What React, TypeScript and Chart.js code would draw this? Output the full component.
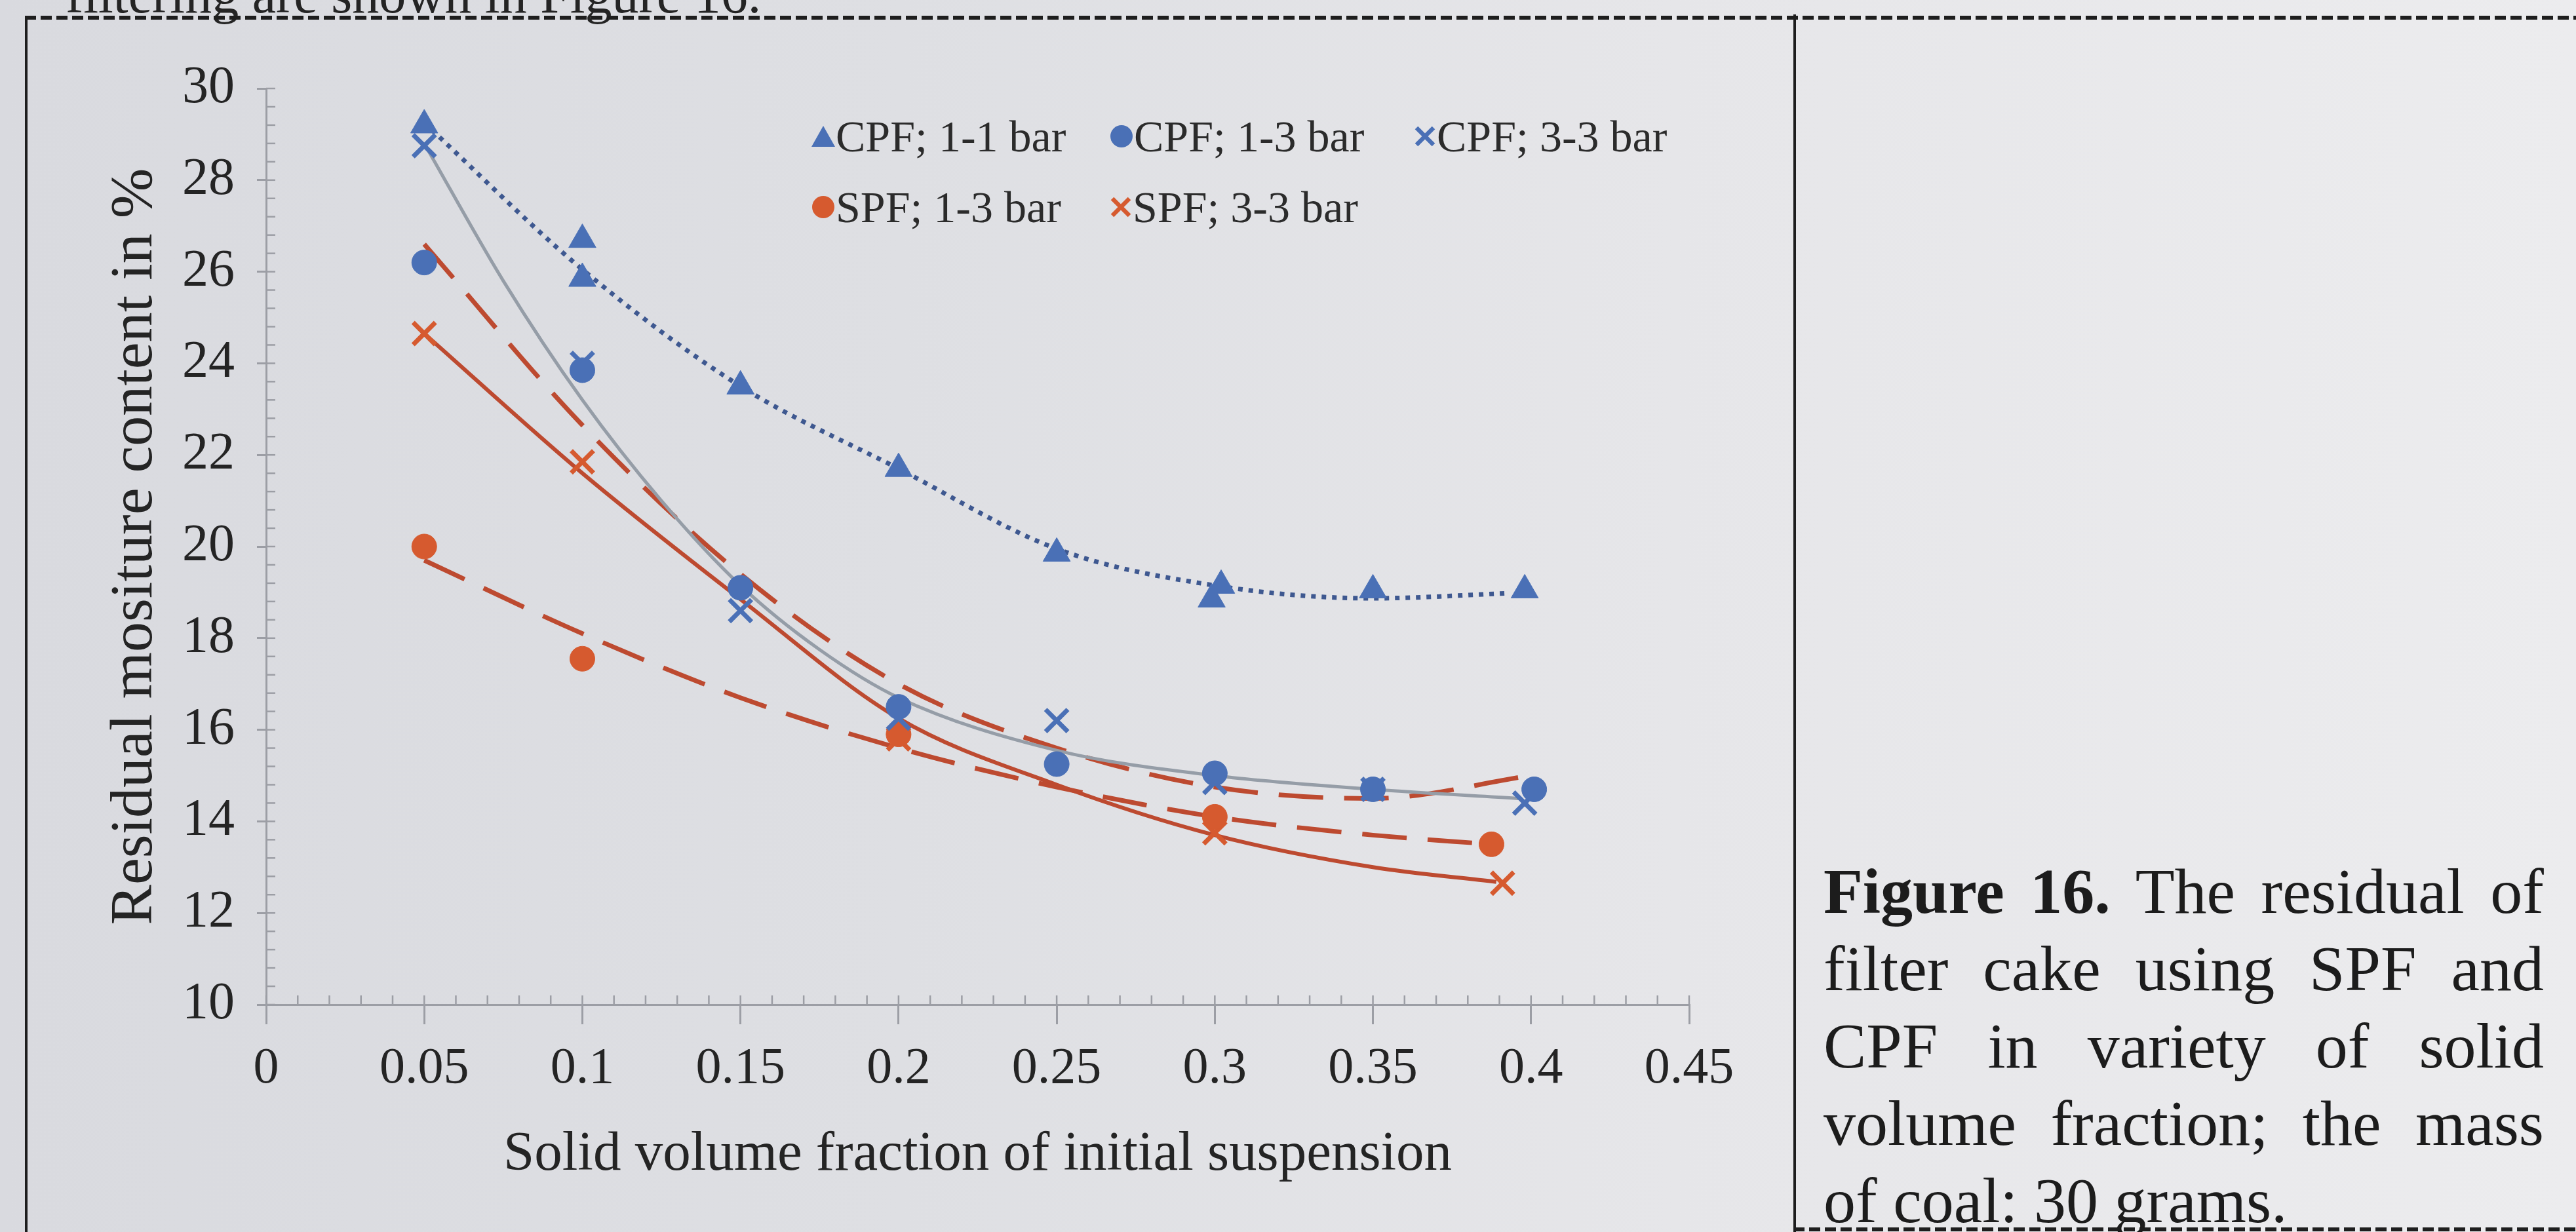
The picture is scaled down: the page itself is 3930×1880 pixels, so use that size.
import React, { useEffect, useRef } from 'react';
import { Chart, registerables } from 'chart.js';

Chart.register(...registerables);

// ---- axes ----
const X_TICKS = [0, 0.05, 0.1, 0.15, 0.2, 0.25, 0.3, 0.35, 0.4, 0.45];
const Y_TICKS = [10, 12, 14, 16, 18, 20, 22, 24, 26, 28, 30];
const X_MINOR_STEP = 0.01;
const Y_MINOR_STEP = 0.4;

// ---- measured points ----
const cpf11X = [0.05, 0.1, 0.1, 0.15, 0.2, 0.25, 0.302, 0.299, 0.35, 0.398];
const cpf11Y = [29.2, 26.7, 25.85, 23.5, 21.7, 19.85, 19.15, 18.85, 19.05, 19.05];

const cpf13X = [0.05, 0.1, 0.15, 0.2, 0.25, 0.3, 0.35, 0.401];
const cpf13Y = [26.2, 23.85, 19.1, 16.5, 15.25, 15.05, 14.7, 14.7];

const cpf33X = [0.05, 0.1, 0.15, 0.2, 0.25, 0.3, 0.35, 0.398];
const cpf33Y = [28.75, 24.0, 18.6, 16.25, 16.2, 14.85, 14.7, 14.4];

const spf13X = [0.05, 0.1, 0.2, 0.3, 0.3875];
const spf13Y = [20.0, 17.55, 15.9, 14.1, 13.5];

const spf33X = [0.05, 0.1, 0.2, 0.3, 0.391];
const spf33Y = [24.65, 21.85, 15.8, 13.75, 12.65];

// ---- trend lines ----
const trendCpf11X = [0.05, 0.1, 0.15, 0.2, 0.25, 0.3, 0.35, 0.393];
const trendCpf11Y = [29.25, 26.05, 23.5, 21.7, 19.95, 19.15, 18.87, 18.98];

const trendCpf33X = [0.05, 0.075, 0.1, 0.125, 0.15, 0.175, 0.2, 0.25, 0.3, 0.35, 0.396];
const trendCpf33Y = [28.8, 25.8, 23.2, 21.0, 19.15, 17.75, 16.7, 15.55, 15.0, 14.7, 14.5];

const trendCpf13X = [0.05, 0.1, 0.15, 0.2, 0.25, 0.3, 0.35, 0.4];
const trendCpf13Y = [26.6, 22.65, 19.4, 17.0, 15.6, 14.75, 14.5, 15.0];

const trendSpf13X = [0.05, 0.1, 0.15, 0.2, 0.25, 0.3, 0.35, 0.3875];
const trendSpf13Y = [19.7, 18.1, 16.7, 15.6, 14.75, 14.1, 13.7, 13.5];

const trendSpf33X = [0.05, 0.1, 0.15, 0.2, 0.25, 0.3, 0.35, 0.389];
const trendSpf33Y = [24.65, 21.6, 18.85, 16.25, 14.8, 13.7, 13.0, 12.68];

// ---- texts ----
const LEGEND_LABELS = ['CPF; 1-1 bar', 'CPF; 1-3 bar', 'CPF; 3-3 bar', 'SPF; 1-3 bar', 'SPF; 3-3 bar'];
const X_TITLE = 'Solid volume fraction of initial suspension';
const Y_TITLE = 'Residual mositure content in %';
const TOP_TEXT = 'filtering are shown in Figure 16.';
const CAPTION_LINES = [
  'The residual of',
  'filter cake using SPF and',
  'CPF in variety of solid',
  'volume fraction; the mass',
  'of coal: 30 grams.',
];

// ---- styles ----
const BLUE = '#4a70b6';
const ORANGE = '#d65a2f';
const RED_LINE = '#bd4a30';
const DOT_BLUE = '#3e5890';
const GRAY_LINE = '#959da7';
const AXIS = '#9c9ea5';
const TEXT = '#242424';
const SERIF = "'Liberation Serif', 'Times New Roman', serif";

const pts = (xs: number[], ys: number[]) => xs.map((x, i) => ({ x, y: ys[i] }));
const fmt = (v: number) => String(parseFloat(v.toFixed(2)));

const minorTicks = {
  id: 'minorTicks',
  afterDraw(chart: any) {
    const { ctx } = chart;
    const xs = chart.scales.x;
    const ys = chart.scales.y;
    ctx.save();
    ctx.strokeStyle = AXIS;
    ctx.lineWidth = 2.5;
    const nx = Math.round((xs.max - xs.min) / X_MINOR_STEP);
    for (let i = 0; i <= nx; i++) {
      const px = xs.getPixelForValue(xs.min + i * X_MINOR_STEP);
      ctx.beginPath();
      ctx.moveTo(px, ys.bottom);
      ctx.lineTo(px, ys.bottom - 14);
      ctx.stroke();
    }
    const ny = Math.round((ys.max - ys.min) / Y_MINOR_STEP);
    for (let i = 0; i <= ny; i++) {
      const py = ys.getPixelForValue(ys.min + i * Y_MINOR_STEP);
      ctx.beginPath();
      ctx.moveTo(xs.left, py);
      ctx.lineTo(xs.left + 14, py);
      ctx.stroke();
    }
    ctx.restore();
  },
};

function LegendMarker({ kind, color }: { kind: string; color: string }) {
  if (kind === 'triangle') {
    return (
      <svg width="38" height="34" style={{ display: 'block' }}>
        <polygon points="19,1 37,33 1,33" fill={color} />
      </svg>
    );
  }
  if (kind === 'circle') {
    return (
      <svg width="38" height="38" style={{ display: 'block' }}>
        <circle cx="19" cy="19" r="17" fill={color} />
      </svg>
    );
  }
  return (
    <svg width="36" height="36" style={{ display: 'block' }}>
      <line x1="5" y1="5" x2="31" y2="31" stroke={color} strokeWidth="6.5" />
      <line x1="31" y1="5" x2="5" y2="31" stroke={color} strokeWidth="6.5" />
    </svg>
  );
}

const LEGEND_ITEMS = [
  { label: LEGEND_LABELS[0], kind: 'triangle', color: BLUE, mx: 1256, my: 208 },
  { label: LEGEND_LABELS[1], kind: 'circle', color: BLUE, mx: 1711, my: 208 },
  { label: LEGEND_LABELS[2], kind: 'x', color: BLUE, mx: 2175, my: 208 },
  { label: LEGEND_LABELS[3], kind: 'circle', color: ORANGE, mx: 1256, my: 316 },
  { label: LEGEND_LABELS[4], kind: 'x', color: ORANGE, mx: 1711, my: 316 },
];

export default function App() {
  const canvasRef = useRef<HTMLCanvasElement | null>(null);

  useEffect(() => {
    document.body.style.margin = '0';
    document.body.style.overflow = 'hidden';
    const canvas = canvasRef.current;
    if (!canvas) return;

    const markerSet = (label: string, xs: number[], ys: number[], style: string, color: string, r: number, bw: number) => ({
      label,
      data: pts(xs, ys),
      showLine: false,
      pointStyle: style,
      pointRadius: r,
      pointHoverRadius: r,
      backgroundColor: color,
      borderColor: color,
      pointBorderWidth: bw,
      borderWidth: bw,
    });
    const trendSet = (xs: number[], ys: number[], color: string, width: number, dash: number[]) => ({
      label: '',
      data: pts(xs, ys),
      showLine: true,
      pointRadius: 0,
      borderColor: color,
      backgroundColor: color,
      borderWidth: width,
      borderDash: dash,
      borderCapStyle: 'butt',
      cubicInterpolationMode: 'monotone',
      fill: false,
    });

    const chart = new Chart(canvas, {
      type: 'scatter',
      data: {
        datasets: [
          markerSet(LEGEND_LABELS[0], cpf11X, cpf11Y, 'triangle', BLUE, 24, 1),
          markerSet(LEGEND_LABELS[1], cpf13X, cpf13Y, 'circle', BLUE, 19, 1),
          markerSet(LEGEND_LABELS[2], cpf33X, cpf33Y, 'crossRot', BLUE, 24, 7),
          markerSet(LEGEND_LABELS[3], spf13X, spf13Y, 'circle', ORANGE, 19, 1),
          markerSet(LEGEND_LABELS[4], spf33X, spf33Y, 'crossRot', ORANGE, 24, 7),
          trendSet(trendCpf11X, trendCpf11Y, DOT_BLUE, 7, [7, 9]),
          trendSet(trendCpf33X, trendCpf33Y, GRAY_LINE, 5, []),
          trendSet(trendCpf13X, trendCpf13Y, RED_LINE, 7, [68, 32]),
          trendSet(trendSpf13X, trendSpf13Y, RED_LINE, 7, [68, 32]),
          trendSet(trendSpf33X, trendSpf33Y, RED_LINE, 6, []),
        ] as any,
      },
      options: {
        responsive: false,
        animation: false,
        devicePixelRatio: 1,
        layout: { padding: { top: 135, right: 159, left: 0, bottom: 0 } },
        plugins: {
          legend: { display: false },
          tooltip: { enabled: false },
        },
        scales: {
          x: {
            type: 'linear',
            min: 0,
            max: 0.45,
            afterBuildTicks: (s: any) => {
              s.ticks = X_TICKS.map((v) => ({ value: v }));
            },
            afterFit: (s: any) => {
              s.height = 347;
            },
            grid: { drawOnChartArea: false, drawTicks: true, tickLength: 30, color: AXIS, lineWidth: 3 },
            border: { display: true, color: AXIS, width: 3 },
            ticks: {
              autoSkip: false,
              maxRotation: 0,
              padding: 22,
              color: TEXT,
              font: { family: SERIF, size: 78 },
              callback: (v: any) => fmt(Number(v)),
            },
            title: {
              display: true,
              text: X_TITLE,
              color: TEXT,
              font: { family: SERIF, size: 85 },
              padding: { top: 0, bottom: 66 },
            },
          },
          y: {
            type: 'linear',
            min: 10,
            max: 30,
            afterBuildTicks: (s: any) => {
              s.ticks = Y_TICKS.map((v) => ({ value: v }));
            },
            afterFit: (s: any) => {
              s.width = 406;
            },
            grid: { drawOnChartArea: false, drawTicks: true, tickLength: 14, color: AXIS, lineWidth: 3 },
            border: { display: true, color: AXIS, width: 3 },
            ticks: {
              padding: 34,
              color: TEXT,
              font: { family: SERIF, size: 80 },
              callback: (v: any) => fmt(Number(v)),
            },
            title: {
              display: true,
              text: Y_TITLE,
              color: TEXT,
              font: { family: SERIF, size: 92 },
              padding: { top: 152, bottom: 0 },
            },
          },
        },
      } as any,
      plugins: [minorTicks],
    });

    return () => chart.destroy();
  }, []);

  const dashH = 'repeating-linear-gradient(90deg, #1e1e1e 0 17px, transparent 17px 24px)';

  return (
    <div
      style={{
        position: 'absolute',
        left: 0,
        top: 0,
        width: 3930,
        height: 1880,
        overflow: 'hidden',
        background: 'linear-gradient(90deg, #d9dadf 0%, #dedfe3 35%, #e6e6e9 65%, #ececee 100%)',
        fontFamily: SERIF,
      }}
    >
      <div
        style={{
          position: 'absolute',
          left: 100,
          top: -48,
          fontSize: 82,
          lineHeight: '80px',
          color: TEXT,
          whiteSpace: 'nowrap',
        }}
      >
        {TOP_TEXT}
      </div>

      {/* frame lines */}
      <div style={{ position: 'absolute', left: 38, top: 24, width: 3892, height: 6, background: dashH }} />
      <div style={{ position: 'absolute', left: 38, top: 24, width: 4, height: 1856, background: '#1e1e1e' }} />
      <div style={{ position: 'absolute', left: 2736, top: 22, width: 4, height: 1858, background: '#1e1e1e' }} />
      <div style={{ position: 'absolute', left: 2736, top: 1873, width: 1194, height: 6, background: dashH }} />

      <canvas
        ref={canvasRef}
        width={2736}
        height={1880}
        style={{ position: 'absolute', left: 0, top: 0, width: 2736, height: 1880 }}
      />

      {LEGEND_ITEMS.map((it, i) => (
        <div
          key={i}
          style={{
            position: 'absolute',
            left: it.mx - 19,
            top: it.my - 40,
            height: 80,
            display: 'flex',
            alignItems: 'center',
            whiteSpace: 'nowrap',
          }}
        >
          <LegendMarker kind={it.kind} color={it.color} />
          <span style={{ fontSize: 68, color: '#2b2b2b', marginLeft: 0, lineHeight: '80px' }}>{it.label}</span>
        </div>
      ))}

      <div
        style={{
          position: 'absolute',
          left: 2782,
          top: 1301,
          width: 1099,
          fontSize: 98,
          lineHeight: '118px',
          color: '#1c1c1c',
        }}
      >
        {CAPTION_LINES.map((line, i) => (
          <div
            key={i}
            style={{
              textAlign: i === CAPTION_LINES.length - 1 ? 'left' : 'justify',
              textAlignLast: i === CAPTION_LINES.length - 1 ? 'left' : 'justify',
              whiteSpace: 'nowrap',
            }}
          >
            {i === 0 ? (
              <>
                <b>Figure 16.</b> {line}
              </>
            ) : (
              line
            )}
          </div>
        ))}
      </div>
    </div>
  );
}
